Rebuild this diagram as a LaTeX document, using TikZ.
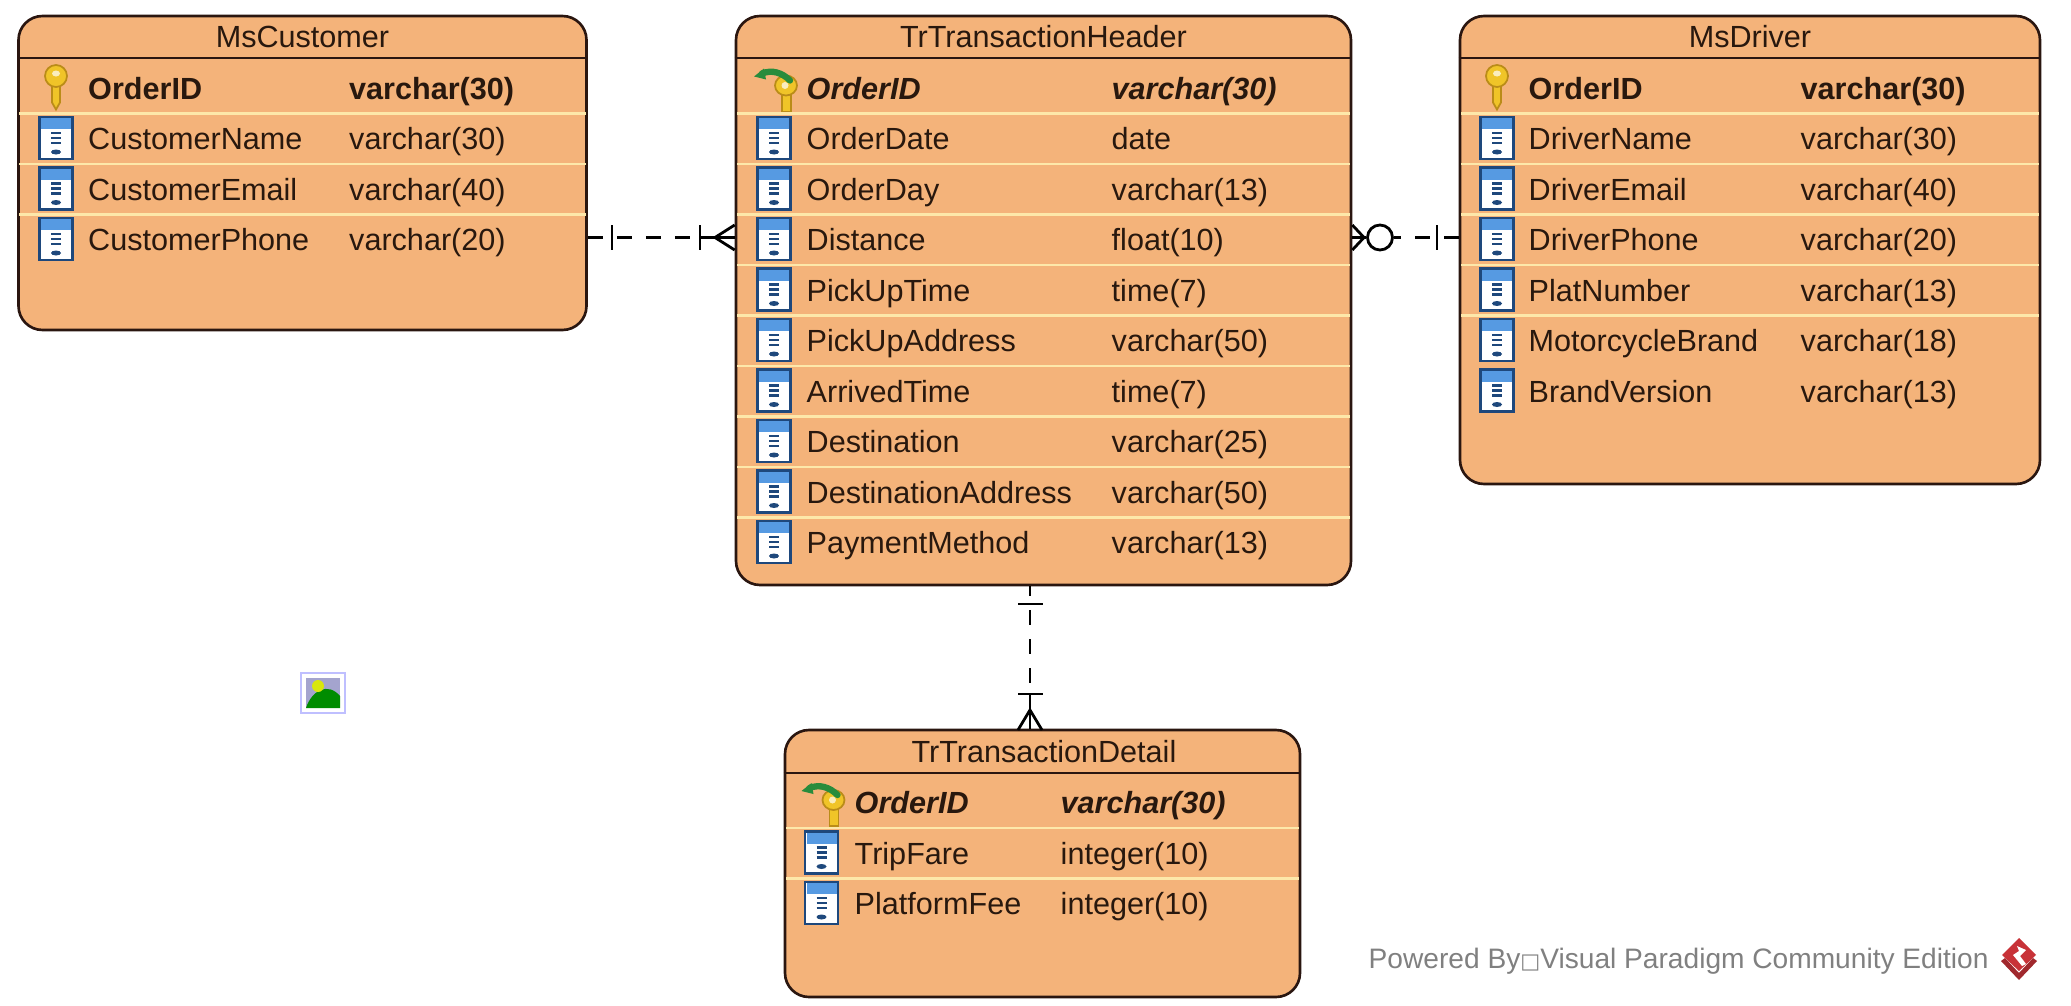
\documentclass[tikz,border=0pt]{standalone}
\usepackage{fontspec}
\setmainfont{Liberation Sans}
\newfontfamily\symbolfont{DejaVu Sans}
\usetikzlibrary{fit}
\definecolor{boxfill}{RGB}{244,179,122}
\definecolor{boxline}{RGB}{42,22,16}
\definecolor{rowline}{RGB}{253,232,170}
\definecolor{rowtext}{RGB}{40,24,14}
\definecolor{iconblue}{RGB}{30,72,124}
\definecolor{iconband}{RGB}{86,154,226}
\definecolor{keygold}{RGB}{240,196,40}
\definecolor{keyedge}{RGB}{186,140,24}
\definecolor{keygreen}{RGB}{40,140,60}
\definecolor{logored}{RGB}{200,50,56}
\tikzset{
        tablebox/.style={draw=boxline, fill=boxfill, line width=0.75pt, rounded corners=0.24cm, inner sep=0pt},
        headline/.style={draw=boxline, line width=0.75pt},
        rowsep/.style={draw=rowline, line width=0.7pt},
        tabletitle/.style={text=rowtext, font=\fontsize{8.7}{10}\selectfont},
        rowcell/.style={anchor=west, inner sep=0pt, text=rowtext, font=\fontsize{8.7}{10}\selectfont, text height=7.8pt, text depth=1.6pt},
        keycell/.style={rowcell, font=\fontsize{8.7}{10}\selectfont\bfseries},
        fkeycell/.style={rowcell, font=\fontsize{8.7}{10}\selectfont\bfseries\itshape},
        relline/.style={draw=black, line width=0.8pt},
        reldash/.style={relline, dash pattern=on 4.27pt off 3.98pt},
        colicon/.pic={
                \draw[iconblue, fill=white, line width=0.8pt] (-16.5,-22) rectangle (16.5,20);
                \fill[iconband] (-15,-21) rectangle (15,-10);
                \foreach \d in {-6,-1,4} \draw[iconblue, line width=0.8pt] (-5,\d) -- (5,\d);
                \fill[iconblue] (0,13) ellipse (5 and 2.5);
        },
        pkicon/.pic={
                \draw[keyedge, fill=keygold, line width=0.5pt] (-4,-6) -- (-4,14) -- (0,21) -- (4,14) -- (4,-6) -- cycle;
                \draw[keyedge, fill=keygold, line width=0.5pt] (0,-12.5) ellipse (11 and 11);
                \fill[white!70!keygold] (0,-15) ellipse (4 and 3);
        },
        fkicon/.pic={
                \draw[keyedge, fill=keygold, line width=0.5pt] (8,0) -- (8,23) -- (17,23) -- (17,0) -- cycle;
                \draw[keyedge, fill=keygold, line width=0.5pt] (12,-3) ellipse (11 and 10);
                \fill[white!70!keygold] (11,-3) circle (3.5);
                \draw[keygreen, line width=1.8pt, line cap=round] (-12,-15) .. controls (-2,-19) and (8,-16) .. (16,-8);
                \fill[keygreen] (-20,-12) -- (-10,-20) -- (-8,-9) -- cycle;
        }
}
\begin{document}
\begin{tikzpicture}[x=0.01cm, y=-0.01cm]
        \useasboundingbox (0,0) rectangle (2071,1006);

        \node[tablebox, fit={(18.5,16) (586.5,330)}] (MsCustomer) {};
        \node[tablebox, fit={(736,16) (1351,585)}] (TrTransactionHeader) {};
        \node[tablebox, fit={(1460,16) (2040,484)}] (MsDriver) {};
        \node[tablebox, fit={(785,730) (1300,997)}] (TrTransactionDetail) {};

        \draw[headline] (MsCustomer.west |- 0,58) -- (MsCustomer.east |- 0,58);
        \draw[headline] (TrTransactionHeader.west |- 0,58) -- (TrTransactionHeader.east |- 0,58);
        \draw[headline] (MsDriver.west |- 0,58) -- (MsDriver.east |- 0,58);
        \draw[headline] (TrTransactionDetail.west |- 0,773) -- (TrTransactionDetail.east |- 0,773);

        \node[tabletitle] (MsCustomerTitle) at (302.5,37) {MsCustomer};
        \node[tabletitle] (TrTransactionHeaderTitle) at (1043.5,37) {TrTransactionHeader};
        \node[tabletitle] (MsDriverTitle) at (1750,37) {MsDriver};
        \node[tabletitle] (TrTransactionDetailTitle) at (1044,752) {TrTransactionDetail};

        \foreach \i in {0,1,2} \draw[rowsep] (19,{113.5+50.5*\i}) -- (586,{113.5+50.5*\i});
        \foreach \i in {0,...,8} \draw[rowsep] (737,{113.5+50.5*\i}) -- (1350,{113.5+50.5*\i});
        \foreach \i in {0,...,4} \draw[rowsep] (1461,{113.5+50.5*\i}) -- (2039,{113.5+50.5*\i});
        \foreach \i in {0,1} \draw[rowsep] (786,{828+50.5*\i}) -- (1299,{828+50.5*\i});

        \pic at (56,88.5) {pkicon};
        \node[keycell] (custId) at (87.5,88.5) {OrderID};
        \node[keycell] (custIdType) at (348.5,88.5) {varchar(30)};
        \foreach \n/\t [count=\i] in {CustomerName/varchar(30), CustomerEmail/varchar(40), CustomerPhone/varchar(20)} {
                \pic at (56,{88.5+50.5*\i}) {colicon};
                \node[rowcell, name=cust\i] at (87.5,{88.5+50.5*\i}) {\n};
                \node[rowcell, name=custType\i] at (348.5,{88.5+50.5*\i}) {\t};
        }

        \pic at (774,88.5) {fkicon};
        \node[fkeycell] (hdrId) at (806,88.5) {OrderID};
        \node[fkeycell] (hdrIdType) at (1111,88.5) {varchar(30)};
        \foreach \n/\t [count=\i] in {OrderDate/date, OrderDay/varchar(13), Distance/float(10), PickUpTime/time(7), PickUpAddress/varchar(50), ArrivedTime/time(7), Destination/varchar(25), DestinationAddress/varchar(50), PaymentMethod/varchar(13)} {
                \pic at (774,{88.5+50.5*\i}) {colicon};
                \node[rowcell, name=hdr\i] at (806,{88.5+50.5*\i}) {\n};
                \node[rowcell, name=hdrType\i] at (1111,{88.5+50.5*\i}) {\t};
        }

        \pic at (1497,88.5) {pkicon};
        \node[keycell] (drvId) at (1528,88.5) {OrderID};
        \node[keycell] (drvIdType) at (1800,88.5) {varchar(30)};
        \foreach \n/\t [count=\i] in {DriverName/varchar(30), DriverEmail/varchar(40), DriverPhone/varchar(20), PlatNumber/varchar(13), MotorcycleBrand/varchar(18), BrandVersion/varchar(13)} {
                \pic at (1497,{88.5+50.5*\i}) {colicon};
                \node[rowcell, name=drv\i] at (1528,{88.5+50.5*\i}) {\n};
                \node[rowcell, name=drvType\i] at (1800,{88.5+50.5*\i}) {\t};
        }

        \pic at (821.5,803) {fkicon};
        \node[fkeycell] (dtlId) at (854,803) {OrderID};
        \node[fkeycell] (dtlIdType) at (1060,803) {varchar(30)};
        \foreach \n/\t [count=\i] in {TripFare/integer(10), PlatformFee/integer(10)} {
                \pic at (821.5,{803+50.5*\i}) {colicon};
                \node[rowcell, name=dtl\i] at (854,{803+50.5*\i}) {\n};
                \node[rowcell, name=dtlType\i] at (1060,{803+50.5*\i}) {\t};
        }

        \coordinate (custOut) at (MsCustomer.east |- 0,237.5);
        \coordinate (custBar) at (700,237.5);
        \coordinate (hdrIn) at (TrTransactionHeader.west |- 0,237.5);
        \draw[reldash] (custOut) -- (custBar);
        \draw[relline] (custBar) -- (hdrIn);
        \draw[relline] (612,225) -- (612,250);
        \draw[relline] (700,225) -- (700,250);
        \draw[relline] (hdrIn |- 0,225) -- (715,237.5) -- (hdrIn |- 0,250);

        \node[draw=black, line width=0.8pt, circle, minimum size=0.25cm, inner sep=0pt] (drvRing) at (1380,237.5) {};
        \coordinate (hdrOut) at (TrTransactionHeader.east |- 0,237.5);
        \coordinate (drvIn) at (MsDriver.west |- 0,237.5);
        \draw[reldash] (drvIn) -- (drvRing);
        \draw[relline] (hdrOut) -- (drvRing);
        \draw[relline] (1437,225) -- (1437,250);
        \draw[relline] (hdrOut |- 0,225) -- (1364,237.5) -- (hdrOut |- 0,250);

        \coordinate (hdrDown) at (TrTransactionHeader.south -| 1030,0);
        \coordinate (dtlBar) at (1030,694);
        \coordinate (dtlIn) at (TrTransactionDetail.north -| 1030,0);
        \draw[reldash, dash phase=1.42pt] (hdrDown) -- (dtlBar);
        \draw[relline] (dtlBar) -- (dtlIn);
        \draw[relline] (1018,604) -- (1043,604);
        \draw[relline] (1018,694) -- (1043,694);
        \draw[relline] (1018,730) -- (1030,710) -- (1042,730);

        \draw[draw=blue!25!white, fill=white, line width=0.8pt] (301,673) rectangle (345,713);
        \fill[blue!30!gray!55] (306,678) rectangle (340,708);
        \fill[green!55!black] (306,708) .. controls (312,690) and (328,682) .. (340,696) -- (340,708) -- cycle;
        \fill[yellow!85!green] (318,686) circle (6);

        \node[anchor=west, inner sep=0pt, text=black!50, font=\fontsize{8}{10}\selectfont] (poweredBy) at (1368,961) {Powered By{\symbolfont\fontsize{6}{8}\selectfont □}Visual Paradigm Community Edition};
        \fill[logored] (2019,938) -- (2036,955) -- (2019,971) -- (2002,955) -- cycle;
        \fill[white] (2017,946) -- (2026,950) -- (2020,956) -- (2026,964) -- (2022,966) -- (2013,955) -- (2019,951) -- cycle;
        \fill[logored!80!black] (2001,961) -- (2019,980) -- (2037,961) -- (2033,958) -- (2019,973) -- (2005,958) -- cycle;
\end{tikzpicture}
\end{document}
